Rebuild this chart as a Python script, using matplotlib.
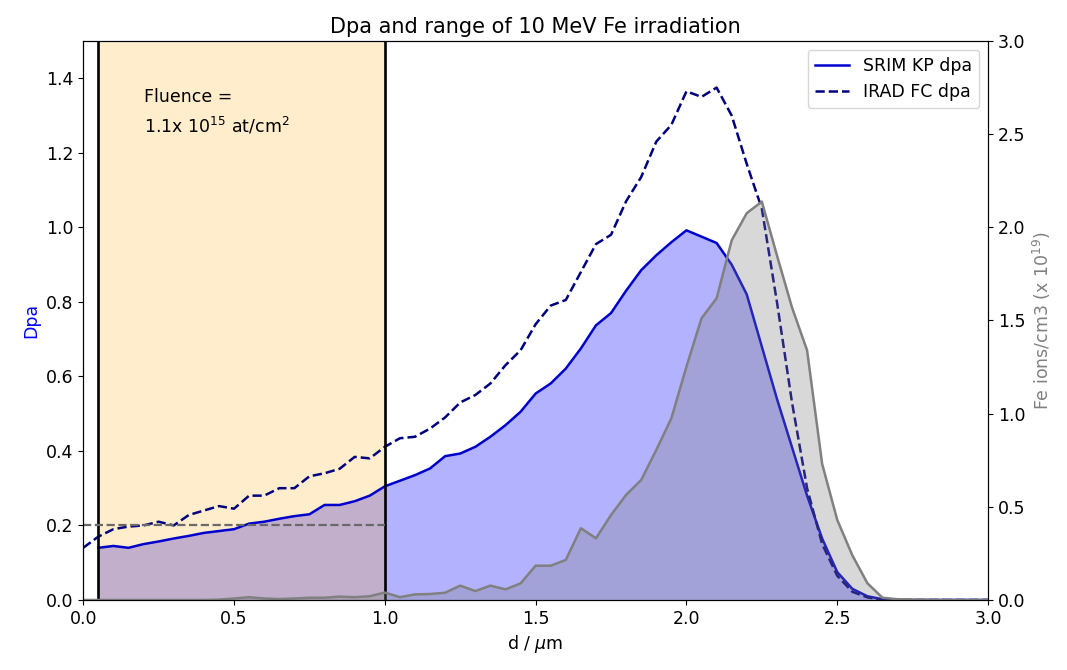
import numpy as np
import matplotlib
matplotlib.use("Agg")
import matplotlib.pyplot as plt

# depth grid (um), 0.05 steps
depth = np.round(np.arange(0, 3.0001, 0.05), 2)

# SRIM Kinchin-Pease dpa (starts at 0.05 um)
srim_depth = depth[1:]
srim_dpa = [0.14, 0.145, 0.14, 0.15, 0.157, 0.165, 0.172, 0.18, 0.185, 0.19,
            0.205, 0.21, 0.218, 0.225, 0.23, 0.255, 0.255, 0.265, 0.28, 0.305,
            0.32, 0.335, 0.353, 0.386, 0.393, 0.411, 0.438, 0.469, 0.505, 0.554,
            0.581, 0.621, 0.675, 0.737, 0.77, 0.83, 0.885, 0.925, 0.96, 0.992,
            0.975, 0.958, 0.9, 0.82, 0.68, 0.54, 0.41, 0.28, 0.165, 0.075,
            0.03, 0.01, 0.002, 0.0, 0.0, 0.0, 0.0, 0.0, 0.0, 0.0]

# IRAD full-cascade dpa
irad_dpa = [0.14, 0.17, 0.19, 0.197, 0.2, 0.21, 0.2, 0.228, 0.24, 0.252,
            0.245, 0.28, 0.28, 0.3, 0.3, 0.332, 0.34, 0.352, 0.384, 0.38,
            0.411, 0.434, 0.438, 0.46, 0.49, 0.53, 0.55, 0.581, 0.63, 0.67,
            0.74, 0.79, 0.805, 0.88, 0.955, 0.98, 1.07, 1.135, 1.23, 1.275,
            1.365, 1.35, 1.375, 1.3, 1.17, 1.05, 0.8, 0.53, 0.3, 0.15,
            0.065, 0.022, 0.007, 0.0, 0.0, 0.0, 0.0, 0.0, 0.0, 0.0, 0.0]

# implanted Fe concentration (x 1e19 ions/cm3)
fe_conc = [0.0, 0.0, 0.0, 0.0, 0.0, 0.0, 0.0, 0.0, 0.0, 0.002,
           0.008, 0.015, 0.008, 0.005, 0.008, 0.012, 0.012, 0.018, 0.015, 0.02,
           0.04, 0.015, 0.03, 0.032, 0.039, 0.077, 0.048, 0.077, 0.057, 0.089,
           0.184, 0.184, 0.215, 0.385, 0.331, 0.456, 0.564, 0.644, 0.805, 0.975,
           1.252, 1.512, 1.619, 1.93, 2.076, 2.138, 1.85, 1.57, 1.34, 0.73,
           0.43, 0.24, 0.09, 0.012, 0.004, 0.002, 0.001, 0.0, 0.0, 0.0, 0.0]

region_start = 0.05
region_end = 1.0
avg_dpa = 0.2

plt.rcParams['font.size'] = 12.5

fig = plt.figure(figsize=(10.67, 6.70), dpi=100)
ax1 = fig.add_axes([0.078, 0.1045, 0.848, 0.8343])

ax1.fill_between(srim_depth, srim_dpa, color='blue', alpha=0.3, lw=0)
ax1.axvspan(region_start, region_end, color='orange', alpha=0.2, lw=0)
ax1.plot(srim_depth, srim_dpa, color='mediumblue', lw=1.8, label='SRIM KP dpa')
ax1.plot(depth, irad_dpa, color='navy', lw=1.8, ls='--', label='IRAD FC dpa')
ax1.axvline(region_start, color='black', lw=1.9)
ax1.axvline(region_end, color='black', lw=1.9)
ax1.hlines(avg_dpa, 0, region_end, colors='dimgray', linestyles='--', lw=1.6)

ax1.set_xlim(0, 3.0)
ax1.set_ylim(0, 1.5)
ax1.set_xlabel(r'd / $\mu$m')
ax1.set_ylabel('Dpa', color='blue')
ax1.set_title('Dpa and range of 10 MeV Fe irradiation')
ax1.text(0.2, 1.375, 'Fluence =\n1.1x 10$^{15}$ at/cm$^2$', va='top', ha='left',
         linespacing=1.6)
ax1.legend(loc='upper right')

ax2 = ax1.twinx()
ax2.fill_between(depth, fe_conc, color='grey', alpha=0.3, lw=0)
ax2.plot(depth, fe_conc, color='grey', lw=1.8)
ax2.set_ylim(0, 3.0)
ax2.set_ylabel('Fe ions/cm3 (x 10$^{19}$)', color='grey')

fig.savefig('out.png', dpi=100)
